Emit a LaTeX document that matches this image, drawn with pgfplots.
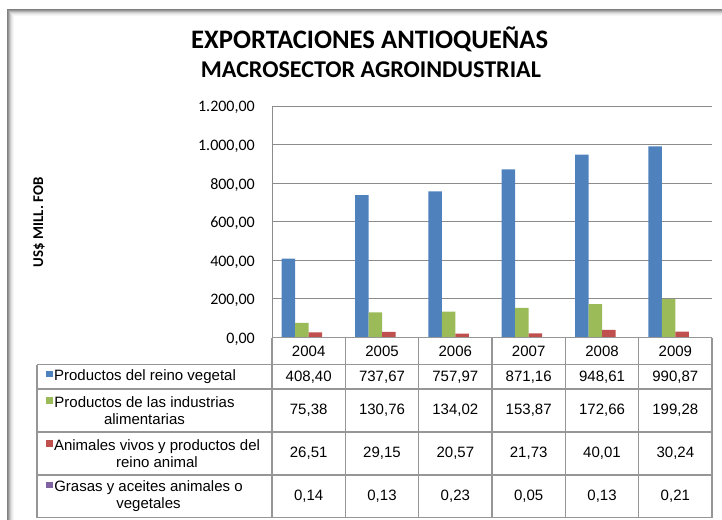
\documentclass[border=0pt]{standalone}
\usepackage{fontspec}
\setmainfont{Liberation Sans}
\newfontfamily\calibri{Carlito}
\usepackage{pgfplots}
\usepackage{pgfplotstable}
\pgfplotsset{compat=1.18}
\definecolor{cBlue}{HTML}{4F81BD}
\definecolor{cGreen}{HTML}{9BBB59}
\definecolor{cRed}{HTML}{C0504D}
\definecolor{cPurple}{HTML}{8064A2}
\definecolor{gridc}{HTML}{8C8C8C}
\definecolor{tblc}{HTML}{969696}
\pgfplotstableread{
x veg ali ani gra
0 408.40 75.38 26.51 0.14
1 737.67 130.76 29.15 0.13
2 757.97 134.02 20.57 0.23
3 871.16 153.87 21.73 0.05
4 948.61 172.66 40.01 0.13
5 990.87 199.28 30.24 0.21
}\datatable
\newcommand{\keysq}[1]{\llap{\textcolor{#1}{\rule[3.8pt]{6.5pt}{6.5pt}}\hspace{1.5pt}}}
\begin{document}
\begin{tikzpicture}
\path[use as bounding box] (0,0) rectangle (722pt,-519pt);
\begin{scope}[x=1pt,y=-1pt]
% frame
\foreach \k/\c in {0/50,1/42,2/30,3/20,4/12,5/7,6/3} {
  \draw[line width=1pt, black!\c] (7.5+\k,530) -- (7.5+\k,9.5+\k) -- (735,9.5+\k);
}
% titles
\node[anchor=base west, inner sep=0pt] at (191,48.3) {\resizebox{357pt}{!}{\calibri\bfseries EXPORTACIONES ANTIOQUEÑAS}};
\node[anchor=base west, inner sep=0pt] at (200.7,77.7) {\resizebox{340pt}{!}{\calibri\bfseries MACROSECTOR AGROINDUSTRIAL}};
% y label
\node[rotate=90, inner sep=0pt] at (39,222) {\resizebox{90pt}{!}{\calibri\bfseries US\$ MILL. FOB}};
\end{scope}

\begin{axis}[
  at={(272pt,-337.5pt)}, anchor=south west,
  scale only axis, width=440pt, height=231.5pt,
  xmin=-0.5, xmax=5.5, ymin=0, ymax=1200,
  enlargelimits=false, clip=false,
  ytick={0,200,...,1200}, xtick=\empty,
  ymajorgrids, grid style={gridc, line width=1pt},
  axis line style={draw=none},
  major tick length=0pt,
  ybar=0pt, bar width=13.5pt,
  /pgf/number format/assume math mode=true,
  yticklabel={\pgfmathprintnumber[fixed, fixed zerofill, precision=2, use comma, 1000 sep={.}]{\tick}},
  yticklabel style={font=\calibri\fontsize{16}{19}\selectfont, anchor=east, inner sep=0pt, xshift=-17pt, yshift=-1.5pt},
]
\addplot[fill=cBlue, draw=none] table[x=x, y=veg] {\datatable};
\addplot[fill=cGreen, draw=none] table[x=x, y=ali] {\datatable};
\addplot[fill=cRed, draw=none] table[x=x, y=ani] {\datatable};
\addplot[fill=cPurple, draw=none] table[x=x, y=gra] {\datatable};
\end{axis}

\begin{scope}[x=1pt,y=-1pt]
% left plot-area line
\draw[gridc, line width=1pt] (272,106) -- (272,337.5);
% table grid
\foreach \i in {0,...,6} {
  \draw[tblc, line width=1.3pt] ({272+\i*73.3333},337.5) -- ({272+\i*73.3333},517.5);
}
\draw[tblc, line width=1.3pt] (272,337.5) -- (712,337.5);
\foreach \yy in {364.5,389,432,475,517.5} {
  \draw[tblc, line width=1.3pt] (37,\yy) -- (712,\yy);
}
\draw[tblc, line width=1.3pt] (37,364.5) -- (37,517.5);
% header
\foreach \yr [count=\i from 0] in {2004,2005,2006,2007,2008,2009} {
  \node[font=\fontsize{15}{18}\selectfont] at ({308.667+\i*73.3333},351) {\yr};
}
% numbers
\foreach \a/\b/\c/\d [count=\i from 0] in {{408,40}/{75,38}/{26,51}/{0,14},{737,67}/{130,76}/{29,15}/{0,13},{757,97}/{134,02}/{20,57}/{0,23},{871,16}/{153,87}/{21,73}/{0,05},{948,61}/{172,66}/{40,01}/{0,13},{990,87}/{199,28}/{30,24}/{0,21}} {
  \node[font=\fontsize{15}{18}\selectfont] at ({308.667+\i*73.3333},377) {\a};
  \node[font=\fontsize{15}{18}\selectfont] at ({308.667+\i*73.3333},410.5) {\b};
  \node[font=\fontsize{15}{18}\selectfont] at ({308.667+\i*73.3333},453.5) {\c};
  \node[font=\fontsize{15}{18}\selectfont] at ({308.667+\i*73.3333},496.5) {\d};
}
% row labels
\node[font=\fontsize{15}{17}\selectfont, align=center, inner sep=0pt] at (145,377) {\keysq{cBlue}Productos del reino vegetal};
\node[font=\fontsize{15}{17}\selectfont, align=center, inner sep=0pt] at (144.5,410.5) {\keysq{cGreen}Productos de las industrias\\alimentarias};
\node[font=\fontsize{15}{17}\selectfont, align=center, inner sep=0pt] at (157,453.5) {\keysq{cRed}Animales vivos y productos del\\reino animal};
\node[font=\fontsize{15}{17}\selectfont, align=center, inner sep=0pt] at (148.5,496.5) {\keysq{cPurple}Grasas y aceites animales o\\vegetales};
\end{scope}
\end{tikzpicture}
\end{document}
